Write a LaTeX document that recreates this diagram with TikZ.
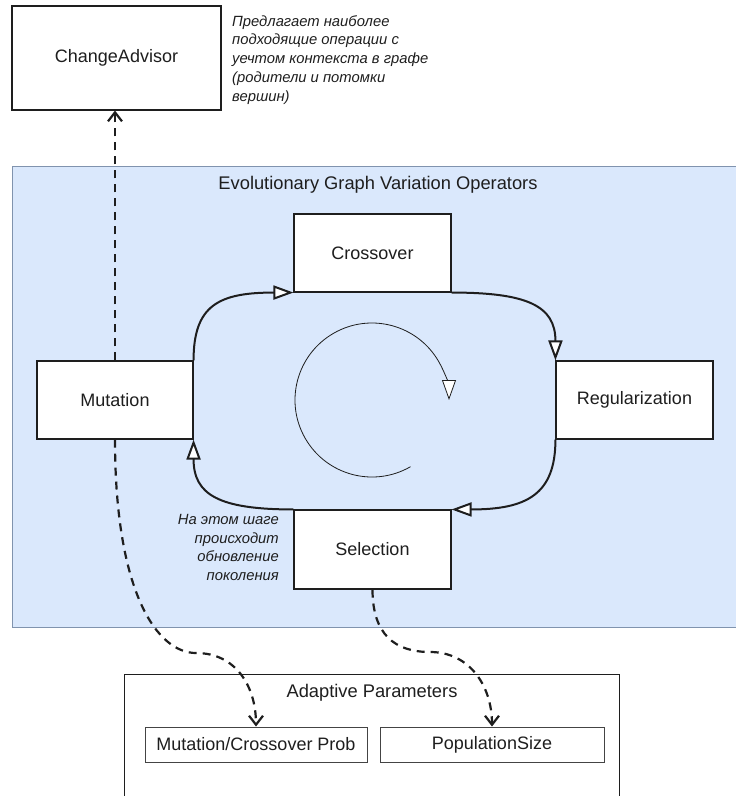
\documentclass[tikz,border=0pt]{standalone}
\usepackage{fontspec}
\setmainfont{Liberation Sans}
\usetikzlibrary{arrows.meta,calc}
\definecolor{groupfill}{HTML}{DAE8FC}
\definecolor{groupline}{HTML}{8093AE}
\definecolor{ink}{HTML}{1E1E1E}
\definecolor{softink}{HTML}{444444}
\begin{document}
\begin{tikzpicture}[x=1pt,y=-1pt,
  region/.style={draw=groupline, line width=1pt, fill=groupfill, rectangle, inner sep=0pt},
  opbox/.style={draw=ink, line width=1.1pt, fill=white, rectangle, inner sep=0pt,
    font=\fontsize{18}{21}\selectfont, text=ink},
  parbox/.style={draw=softink, line width=1pt, fill=white, rectangle, inner sep=0pt,
    font=\fontsize{18}{21}\selectfont, text=ink},
  heading/.style={font=\fontsize{18.3}{21}\selectfont, text=ink, inner sep=0pt},
  note/.style={font=\fontsize{14.8}{18.8}\selectfont\itshape, inner sep=0pt, text=ink},
  flow/.style={draw=ink, line width=2pt,
    -{Triangle[fill=white, length=20pt, width=14pt]}},
  link/.style={draw=ink, line width=2.2pt, dash pattern=on 8pt off 6pt,
    -{Straight Barb[length=9pt, width=14pt]}},
]
\useasboundingbox (0,0) rectangle (736,796);

% operator group
\node[region, anchor=north west, minimum width=730pt, minimum height=461pt] (evo) at (12,166) {};
\node[heading] (evotitle) at (378,185) {Evolutionary Graph Variation Operators};

% advisor
\node[opbox, minimum width=209pt, minimum height=104pt] (ca) at (116.5,58) {ChangeAdvisor};
\node[note, anchor=north west, align=left] (canote) at (232,15)
  {Предлагает наиболее\\подходящие операции с\\уечтом контекста в графе\\(родители и потомки\\вершин)};

% operators
\node[opbox, minimum width=157pt, minimum height=78pt] (cross) at (372.5,253) {Crossover};
\node[opbox, minimum width=156pt, minimum height=78pt] (mut) at (115,400) {Mutation};
\node[opbox, minimum width=157pt, minimum height=78pt] (reg) at (634.5,400) {Regularization};
\node[opbox, minimum width=157pt, minimum height=79pt] (sel) at (372.5,549.5) {Selection};
\node[note, anchor=north east, align=right] (selnote) at (279,514)
  {На этом шаге\\происходит\\обновление\\поколения};

% adaptive parameters
\node[parbox, draw=ink, anchor=north west, minimum width=495pt, minimum height=130pt] (adapt) at (124,674) {};
\node[heading] (adapttitle) at (372,693) {Adaptive Parameters};
\node[parbox, minimum width=222pt, minimum height=35pt] (mcp) at (256,744.5) {Mutation/Crossover Prob};
\node[parbox, minimum width=224pt, minimum height=35pt] (pop) at (492,744.5) {PopulationSize};

% evolution cycle
\draw[flow] (mut.north east) .. controls +(0,-55) and +(-75,0) .. (cross.south west);
\draw[flow] (cross.south east) .. controls +(75,0) and +(0,-55) .. (reg.north west);
\draw[flow] (reg.south west) .. controls +(0,55) and +(75,0) .. (sel.north east);
\draw[flow] (sel.north west) .. controls +(-75,0) and +(0,55) .. (mut.south east);

% rotation mark
\coordinate (cyc) at (372,400);
\draw[draw=ink, line width=0.8pt, -{Triangle[fill=white, length=20pt, width=14pt, line width=0.8pt]}]
  (cyc) ++(-60:77pt) arc[start angle=-60, end angle=-360, radius=77pt];

% dependencies
\coordinate (bendA) at (196,653);
\coordinate (bendB) at (430,652);
\draw[link] (mut.north) -- (mut.north |- ca.south);
\draw[link] (mut.south) .. controls +(0,155) and +(-38,0) .. (bendA)
  .. controls +(40,0) and +(0,-40) .. (mcp.north);
\draw[link] (sel.south) .. controls +(0,45) and +(-35,0) .. (bendB)
  .. controls +(40,0) and +(0,-40) .. (pop.north);
\end{tikzpicture}
\end{document}
